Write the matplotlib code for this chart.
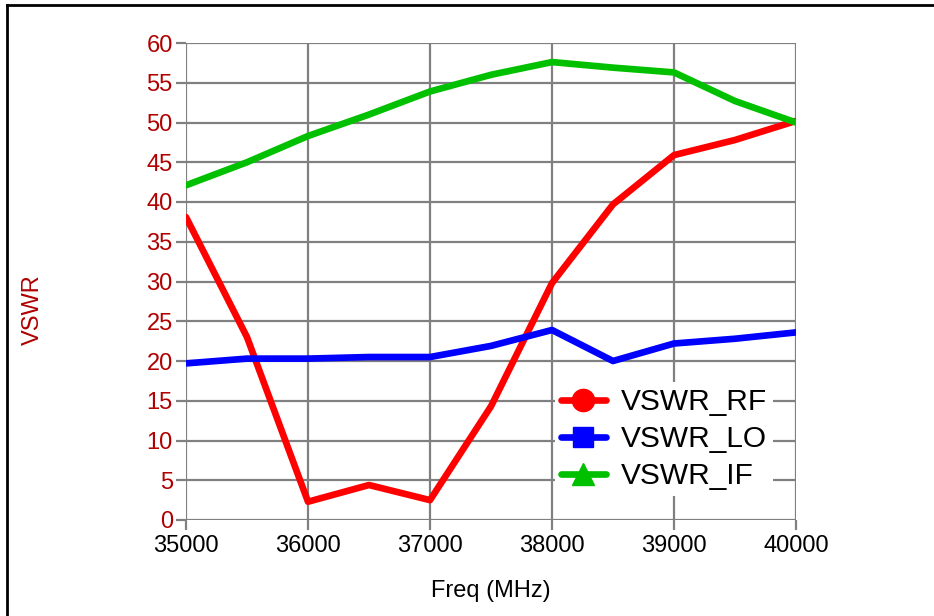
import numpy as np
import matplotlib.pyplot as plt
from matplotlib.lines import Line2D

plt.rcParams['font.family'] = ['Liberation Sans', 'DejaVu Sans']

freq = [35000, 35500, 36000, 36500, 37000, 37500, 38000, 38500, 39000, 39500, 40000]
vswr_rf = [38.1, 23.0, 2.3, 4.4, 2.5, 14.3, 29.8, 39.7, 45.9, 47.8, 50.2]
vswr_lo = [19.7, 20.3, 20.3, 20.5, 20.5, 21.9, 23.9, 20.0, 22.2, 22.8, 23.6]
vswr_if = [42.1, 45.0, 48.3, 51.0, 53.9, 56.0, 57.6, 56.9, 56.3, 52.7, 50.0]
xticks = [35000, 36000, 37000, 38000, 39000, 40000]
yticks = [0, 5, 10, 15, 20, 25, 30, 35, 40, 45, 50, 55, 60]

darkred = '#B00000'
gray = '#808080'

fig = plt.figure(figsize=(9.34, 6.16), dpi=100)
ax = fig.add_axes([186/934, 1-520/616, 610/934, 477/616])

ax.plot(freq, vswr_rf, color='#FF0000', lw=4.8, label='VSWR_RF', solid_capstyle='round', zorder=3)
ax.plot(freq, vswr_lo, color='#0000FF', lw=4.8, label='VSWR_LO', solid_capstyle='round', zorder=3)
ax.plot(freq, vswr_if, color='#00C000', lw=4.8, label='VSWR_IF', solid_capstyle='round', zorder=3)

ax.set_xlim(35000, 40000)
ax.set_ylim(0, 60)
ax.set_xticks(xticks)
ax.set_yticks(yticks)
ax.grid(True, color=gray, lw=1.6)
ax.set_axisbelow(True)
for s in ax.spines.values():
    s.set_visible(False)
ax.tick_params(axis='both', color=gray, width=1.6, length=7.5, labelsize=17)
ax.tick_params(axis='y', labelcolor=darkred, pad=2)
ax.tick_params(axis='x', labelcolor='black', pad=3)

ax.set_xlabel('Freq (MHz)', fontsize=17, labelpad=17)
fig.text(33/934, 1-310/616, 'VSWR', rotation=90, color=darkred, fontsize=17,
         ha='center', va='center')

handles = [
    Line2D([0], [0], color='#FF0000', lw=4.8, marker='o', markersize=16, solid_capstyle='round'),
    Line2D([0], [0], color='#0000FF', lw=4.8, marker='s', markersize=15, solid_capstyle='round'),
    Line2D([0], [0], color='#00C000', lw=4.8, marker='^', markersize=16, solid_capstyle='round'),
]
leg = ax.legend(handles, ['VSWR_RF', 'VSWR_LO', 'VSWR_IF'], loc='center left',
                bbox_to_anchor=(555/934, 1-439/616), bbox_transform=fig.transFigure,
                frameon=True, fontsize=21.5, handlelength=1.5, handletextpad=0.5,
                labelspacing=0.3, borderpad=0.2, borderaxespad=0)
leg.get_frame().set_facecolor('white')
leg.get_frame().set_edgecolor('none')
leg.get_frame().set_alpha(1)

# outer border (left and top)
fig.add_artist(Line2D([7/934, 7/934], [0, 1-5/616], color='black', lw=2, transform=fig.transFigure))
fig.add_artist(Line2D([7/934, 1], [1-5/616, 1-5/616], color='black', lw=2, transform=fig.transFigure))

fig.savefig('out.png', dpi=100)
